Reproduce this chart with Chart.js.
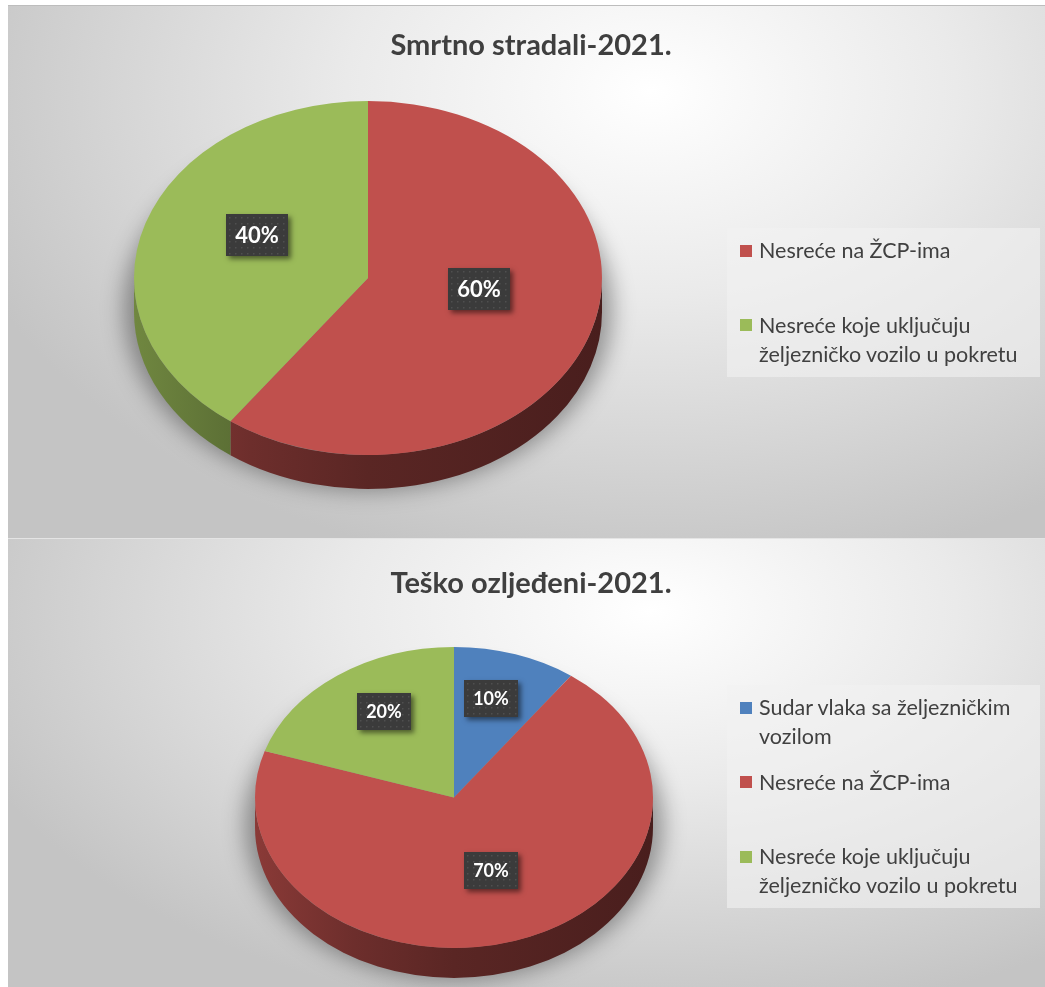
<!DOCTYPE html>
<html><head><meta charset="utf-8">
<script src="https://cdn.jsdelivr.net/npm/chart.js@4.4.1/dist/chart.umd.min.js"></script>
<style>
html,body{margin:0;padding:0;background:#fff;width:1045px;height:987px;overflow:hidden;font-family:Lato,sans-serif;}
.panel{position:absolute;left:8px;width:1037px;background:radial-gradient(ellipse 70% 92% at 62% 16%, #ffffff 0%, #eaeaea 42%, #c4c4c4 100%);}
#p1{top:5px;height:532px;border-top:1px solid #bdbdbd;}
#p2{top:538px;height:449px;border-top:1px solid #e4e4e4;}
canvas{position:absolute;left:0;}
#c1{top:0;}
#c2{top:538px;}
.legend{position:absolute;left:727px;width:313px;background:rgba(242,242,242,0.6);box-sizing:border-box;padding:8px 0 8px 13px;color:#404040;font:21.5px Lato,sans-serif;}
.item{position:relative;height:74.5px;padding-left:19px;line-height:29px;white-space:normal;}
.item:last-child{height:auto;}
.item i{position:absolute;left:0;top:8.5px;width:12px;height:12px;}
</style></head>
<body>
<div class="panel" id="p1"></div>
<div class="panel" id="p2"></div>
<canvas id="c1" width="1045" height="538"></canvas>
<canvas id="c2" width="1045" height="449"></canvas>
<div class="legend" id="l1" style="top:228px"></div>
<div class="legend" id="l2" style="top:685px"></div>
<script>
// ---- data ----
const title1 = 'Smrtno stradali-2021.';
const categories1 = ['Nesreće na ŽCP-ima', 'Nesreće koje uključuju željezničko vozilo u pokretu'];
const values1 = [60, 40];
const colors1 = ['#c0504d', '#9bbb59'];

const title2 = 'Teško ozljeđeni-2021.';
const categories2 = ['Sudar vlaka sa željezničkim vozilom', 'Nesreće na ŽCP-ima', 'Nesreće koje uključuju željezničko vozilo u pokretu'];
const values2 = [10, 70, 20];
const colors2 = ['#4f81bd', '#c0504d', '#9bbb59'];

function shade(hex, f) {
  const n = parseInt(hex.slice(1), 16);
  const r = (n >> 16) & 255, g = (n >> 8) & 255, b = n & 255;
  return 'rgb(' + Math.round(r * f) + ',' + Math.round(g * f) + ',' + Math.round(b * f) + ')';
}

const pie3d = {
  id: 'pie3d',
  beforeDatasetsDraw(chart, args, o) {
    const arcs = chart.getDatasetMeta(0).data;
    if (!arcs.length) return;
    const ctx = chart.ctx;
    const cx = o.cx, cy = o.cy, rx = arcs[0].outerRadius, ry = o.ry, d = o.depth;
    // soft shadow
    ctx.save();
    ctx.filter = 'blur(11px)';
    ctx.fillStyle = 'rgba(0,0,0,0.36)';
    ctx.beginPath();
    ctx.ellipse(cx, cy + d * 0.9, rx + 10, ry + 5, 0, 0, Math.PI * 2);
    ctx.fill();
    ctx.restore();
    // sides
    const colors = chart.data.datasets[0].backgroundColor;
    arcs.forEach((a, i) => {
      const s = Math.max(a.startAngle, 0), e = Math.min(a.endAngle, Math.PI);
      if (e <= s) return;
      const g = ctx.createLinearGradient(cx - rx, 0, cx + rx, 0);
      g.addColorStop(0, shade(colors[i], 0.72));
      g.addColorStop(0.25, shade(colors[i], 0.57));
      g.addColorStop(0.5, shade(colors[i], 0.47));
      g.addColorStop(1, shade(colors[i], 0.38));
      ctx.save();
      ctx.beginPath();
      ctx.ellipse(cx, cy, rx, ry, 0, s, e);
      ctx.ellipse(cx, cy + d, rx, ry, 0, e, s, true);
      ctx.closePath();
      ctx.fillStyle = g;
      ctx.fill();
      ctx.restore();
    });
  },
  beforeDatasetDraw(chart, args, o) {
    const meta = args.meta;
    const arcs = meta.data;
    if (!arcs.length) return;
    const ctx = chart.ctx;
    const rx = arcs[0].outerRadius;
    ctx.save();
    ctx.translate(o.cx, o.cy);
    ctx.scale(1, o.ry / rx);
    ctx.translate(-arcs[0].x, -arcs[0].y);
    meta.controller.draw();
    ctx.restore();
    return false;
  },
  afterDatasetsDraw(chart, args, o) {
    const arcs = chart.getDatasetMeta(0).data;
    const vals = chart.data.datasets[0].data;
    const tot = vals.reduce((a, b) => a + b, 0);
    const ctx = chart.ctx;
    const rx = arcs[0].outerRadius;
    arcs.forEach((a, i) => {
      const m = (a.startAngle + a.endAngle) / 2;
      const px = o.cx + Math.cos(m) * rx * o.labelFrac;
      const py = o.cy + Math.sin(m) * o.ry * o.labelFrac + o.labelDy;
      const txt = Math.round(vals[i] / tot * 100) + '%';
      ctx.save();
      ctx.font = 'bold ' + o.labelSize + 'px Lato';
      const w = Math.round(ctx.measureText(txt).width + 2 * o.labelPad);
      const h = o.labelH;
      const x0 = Math.round(px - w / 2), y0 = Math.round(py - h / 2);
      ctx.shadowColor = 'rgba(0,0,0,0.5)';
      ctx.shadowBlur = 5; ctx.shadowOffsetX = 3; ctx.shadowOffsetY = 3;
      ctx.fillStyle = '#3b3b3b';
      ctx.fillRect(x0, y0, w, h);
      ctx.shadowColor = 'transparent';
      ctx.fillStyle = 'rgba(255,255,255,0.10)';
      for (let yy = y0 + 3; yy < y0 + h - 1; yy += 6)
        for (let xx = x0 + 3; xx < x0 + w - 1; xx += 6) ctx.fillRect(xx, yy, 1.5, 1.5);
      ctx.fillStyle = '#ffffff';
      ctx.textAlign = 'center';
      ctx.textBaseline = 'middle';
      ctx.fillText(txt, x0 + w / 2, y0 + h / 2 + 1);
      ctx.restore();
    });
  }
};

function makePie(id, cats, vals, cols, title, radius, p3) {
  return new Chart(document.getElementById(id), {
    type: 'pie',
    data: { labels: cats, datasets: [{ data: vals, backgroundColor: cols, borderWidth: 0, radius: radius }] },
    options: {
      responsive: false, animation: false,
      layout: { padding: { left: 17, right: 0, top: 0, bottom: 0 } },
      plugins: {
        legend: { display: false },
        tooltip: { enabled: false },
        title: { display: true, text: title, color: '#3f3f3f',
          font: { family: 'Lato', size: 29, weight: 'bold' }, padding: { top: 28, bottom: 8 } },
        pie3d: p3
      }
    },
    plugins: [pie3d]
  });
}

function makeLegend(id, cats, cols) {
  const el = document.getElementById(id);
  cats.forEach((c, i) => {
    const d = document.createElement('div');
    d.className = 'item';
    const m = document.createElement('i');
    m.style.background = cols[i];
    d.appendChild(m);
    d.appendChild(document.createTextNode(c));
    el.appendChild(d);
  });
}

makePie('c1', categories1, values1, colors1, title1, 234,
  { cx: 368, cy: 278, ry: 177, depth: 34, labelFrac: 0.5, labelDy: -16, labelSize: 22, labelPad: 9, labelH: 42 });
makePie('c2', categories2, values2, colors2, title2, 199,
  { cx: 454, cy: 259.5, ry: 150.5, depth: 30, labelFrac: 0.6, labelDy: -13, labelSize: 18, labelPad: 9, labelH: 37 });
makeLegend('l1', categories1, colors1);
makeLegend('l2', categories2, colors2);
</script>
</body></html>
